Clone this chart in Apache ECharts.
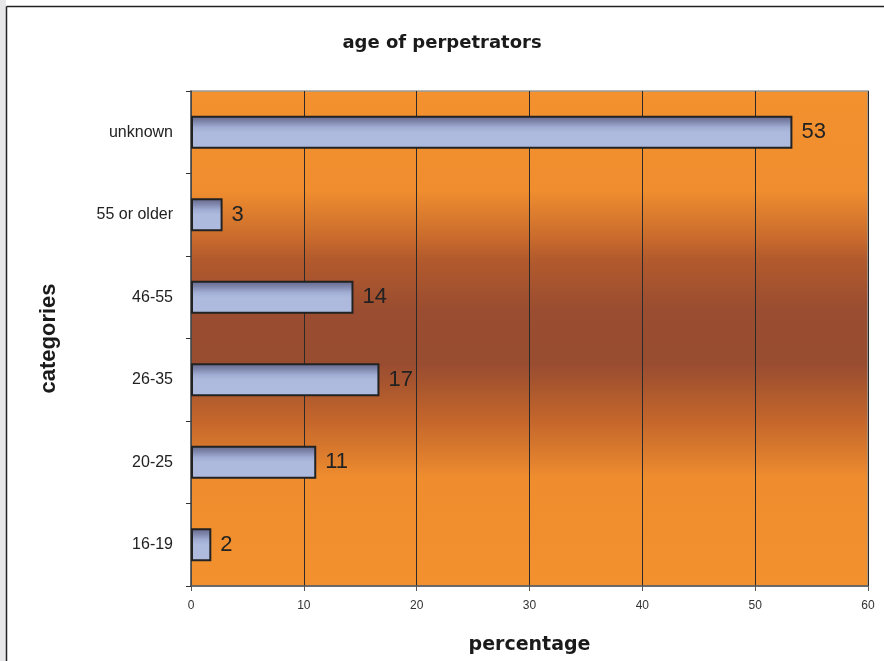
<!DOCTYPE html>
<html>
<head>
<meta charset="utf-8">
<script src="https://cdn.jsdelivr.net/npm/echarts@6/dist/echarts.min.js"></script>
<style>
  html, body { margin: 0; padding: 0; background: #ffffff; }
  #chart { width: 884px; height: 661px; }
</style>
</head>
<body>
<div id="chart"></div>
<script>
// Age groups, listed bottom to top along the category axis
const categories = ['16-19', '20-25', '26-35', '46-55', '55 or older', 'unknown'];
// Share of perpetrators per age group, in percent
const percentages = [1.8, 11.1, 16.7, 14.4, 2.8, 53.3];
// Value axis tick settings
const xMin = 0;
const xMax = 60;
const xStep = 10;

const chart = echarts.init(document.getElementById('chart'), null, { renderer: 'canvas' });

// Plot background: orange at the edges, deep brown through the middle
const plotFill = new echarts.graphic.LinearGradient(0, 0, 0, 1, [
  { offset: 0.0, color: '#f3912f' },
  { offset: 0.2, color: '#f08e2f' },
  { offset: 0.3, color: '#c86a2d' },
  { offset: 0.34, color: '#b35a2d' },
  { offset: 0.44, color: '#9a4d30' },
  { offset: 0.55, color: '#984c30' },
  { offset: 0.665, color: '#c4662c' },
  { offset: 0.745, color: '#e0802e' },
  { offset: 0.78, color: '#ef8d2e' },
  { offset: 1.0, color: '#f3912f' }
]);

// Bars: slate shading along the top edge fading into pale blue
const barFill = new echarts.graphic.LinearGradient(0, 0, 0, 1, [
  { offset: 0.0, color: '#64688a' },
  { offset: 0.15, color: '#7a80a6' },
  { offset: 0.35, color: '#a0acd2' },
  { offset: 0.5, color: '#adbadd' },
  { offset: 1.0, color: '#aebbde' }
]);

chart.setOption({
  backgroundColor: '#ffffff',
  animation: false,
  title: {
    text: 'age of perpetrators',
    left: 'center',
    top: 29,
    textStyle: {
      fontFamily: 'DejaVu Sans',
      fontWeight: 'bold',
      fontSize: 18,
      color: '#1a1a1a'
    }
  },
  graphic: [
    { type: 'rect', shape: { x: 0, y: 0, width: 6, height: 661 }, style: { fill: '#e6e6e8' }, silent: true },
    { type: 'line', shape: { x1: 6.5, y1: 6.5, x2: 6.5, y2: 661 }, style: { stroke: '#222', lineWidth: 1.5 }, silent: true },
    { type: 'line', shape: { x1: 6.5, y1: 6.5, x2: 884, y2: 6.5 }, style: { stroke: '#222', lineWidth: 1.5 }, silent: true }
  ],
  grid: {
    left: 191,
    right: 16,
    top: 91,
    bottom: 75,
    show: true,
    backgroundColor: plotFill,
    borderColor: '#9a9a9a',
    borderWidth: 1.5
  },
  xAxis: {
    type: 'value',
    min: xMin,
    max: xMax,
    interval: xStep,
    name: 'percentage',
    nameLocation: 'middle',
    nameGap: 50,
    nameTextStyle: {
      fontFamily: 'DejaVu Sans',
      fontWeight: 'bold',
      fontSize: 19,
      color: '#1a1a1a'
    },
    axisLine: { show: true, lineStyle: { color: '#555', width: 1.5 } },
    axisTick: { show: true, inside: false, length: 5, lineStyle: { color: '#555' } },
    axisLabel: {
      margin: 14,
      fontFamily: 'Liberation Sans',
      fontSize: 12,
      color: '#333'
    },
    splitLine: { show: true, lineStyle: { color: '#2a2a2a', width: 1 } }
  },
  yAxis: {
    type: 'category',
    data: categories,
    name: 'categories',
    nameLocation: 'middle',
    nameGap: 131,
    nameRotate: 90,
    nameTextStyle: {
      fontFamily: 'Liberation Sans',
      fontWeight: 'bold',
      fontSize: 22,
      color: '#1a1a1a'
    },
    axisLine: { show: true, lineStyle: { color: '#555', width: 1.5 } },
    axisTick: { show: true, inside: false, length: 5, lineStyle: { color: '#333' } },
    axisLabel: {
      margin: 18,
      fontFamily: 'Liberation Sans',
      fontSize: 16,
      color: '#222'
    },
    splitLine: { show: false }
  },
  series: [{
    type: 'bar',
    data: percentages,
    barCategoryGap: '60%',
    itemStyle: {
      color: barFill,
      borderColor: '#222',
      borderWidth: 2
    },
    label: {
      show: true,
      position: 'right',
      distance: 9,
      fontFamily: 'Liberation Sans',
      fontSize: 22,
      color: '#222',
      formatter: p => String(Math.round(p.value))
    }
  }]
});
</script>
</body>
</html>
